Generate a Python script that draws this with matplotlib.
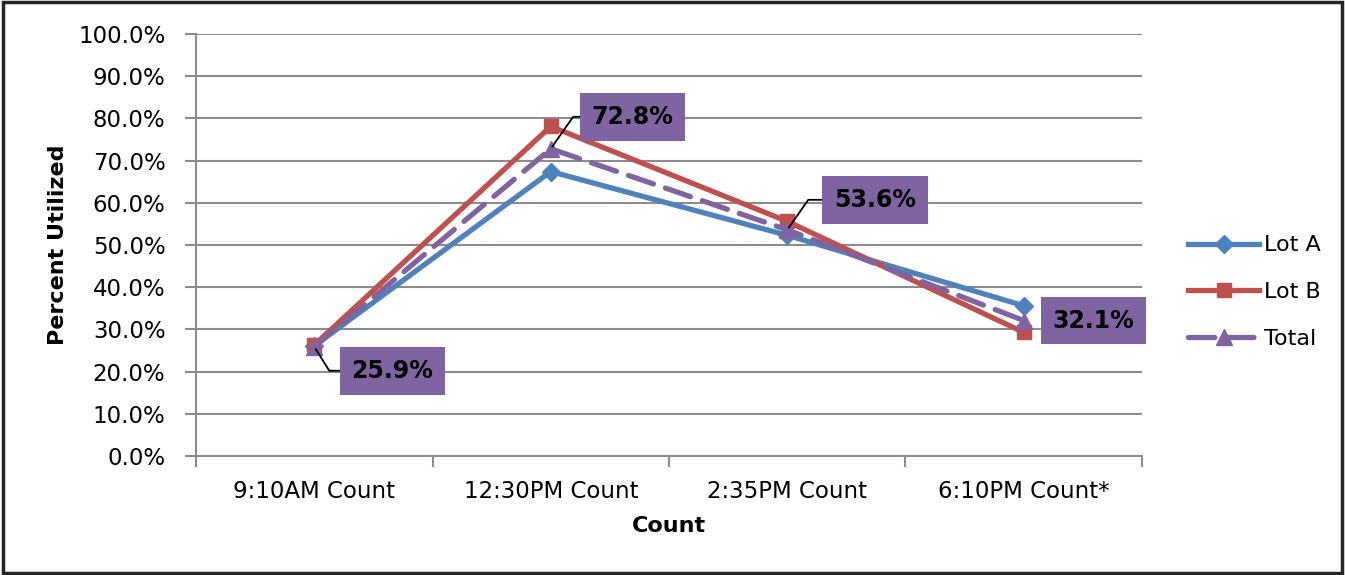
import matplotlib
matplotlib.use("Agg")
import matplotlib.pyplot as plt
from matplotlib.patches import Rectangle
from matplotlib.ticker import FixedLocator, PercentFormatter

counts = ["9:10AM Count", "12:30PM Count", "2:35PM Count", "6:10PM Count*"]
lot_a = [26.1, 67.4, 52.3, 35.6]
lot_b = [26.3, 78.1, 55.6, 29.3]
total = [25.9, 72.8, 53.6, 32.1]

# label box offsets (pixels) from each Total point, and leader bend angles
label_offsets = [(78, -24), (82, 32), (88, 30), (70, 0)]
label_bends = [-58, 55, 55, None]

blue = "#4F81BD"
red = "#C0504D"
purple = "#8064A2"
grid_grey = "#8C8C8C"

plt.rcParams["font.family"] = ["DejaVu Sans"]

fig = plt.figure(figsize=(13.45, 5.75), dpi=100)
ax = fig.add_axes([196 / 1345, 1 - 456 / 575, (1142 - 196) / 1345, (456 - 34) / 575])

x = list(range(len(counts)))
ax.plot(x, lot_a, color=blue, lw=3.8, marker="D", ms=9, label="Lot A", zorder=3)
ax.plot(x, lot_b, color=red, lw=3.8, marker="s", ms=10, label="Lot B", zorder=3)
ax.plot(x, total, color=purple, lw=3.8, marker="^", ms=11, ls=(0, (5, 2.4)),
        dash_capstyle="round", label="Total", zorder=4)

for i, v in enumerate(total):
    dx, dy = label_offsets[i]
    arrow = None
    if label_bends[i] is not None:
        arrow = dict(arrowstyle="-", color="black", lw=1.3, shrinkA=0, shrinkB=2,
                     connectionstyle="angle,angleA=0,angleB=%d" % label_bends[i])
    ax.annotate("%.1f%%" % v, xy=(i, v), xytext=(dx, dy), textcoords="offset pixels",
                ha="center", va="center", fontsize=17, fontweight="bold",
                bbox=dict(boxstyle="square,pad=0.5", fc=purple, ec="none"),
                arrowprops=arrow, zorder=5)

ax.set_xlim(-0.5, len(counts) - 0.5)
ax.set_ylim(0, 100)
ax.set_yticks(range(0, 101, 10))
ax.yaxis.set_major_formatter(PercentFormatter(decimals=1))
ax.set_xticks(x)
ax.set_xticklabels(counts)
ax.xaxis.set_minor_locator(FixedLocator([i - 0.5 for i in range(len(counts) + 1)]))
ax.tick_params(axis="x", which="major", length=0, pad=17, labelsize=16.5)
ax.tick_params(axis="x", which="minor", length=8, width=1.5, color=grid_grey)
ax.tick_params(axis="y", length=8, width=1.5, color=grid_grey, labelsize=16.5, pad=14)

ax.grid(axis="y", color=grid_grey, lw=1.5)
ax.set_axisbelow(True)
for side in ["top", "right"]:
    ax.spines[side].set_visible(False)
for side in ["left", "bottom"]:
    ax.spines[side].set_color(grid_grey)
    ax.spines[side].set_linewidth(1.5)

ax.set_ylabel("Percent Utilized", fontsize=16, fontweight="bold", labelpad=7)
ax.set_xlabel("Count", fontsize=16, fontweight="bold", labelpad=10)

fig.legend(loc="center left", bbox_to_anchor=(1168 / 1345, 1 - 292 / 575),
           frameon=False, fontsize=16, handlelength=3.2, labelspacing=1.2,
           handletextpad=0.2)

fig.add_artist(Rectangle((0.002, 0.004), 0.996, 0.992, transform=fig.transFigure,
                         fill=False, ec="#262626", lw=2.5))

fig.savefig("out.png", dpi=100)
